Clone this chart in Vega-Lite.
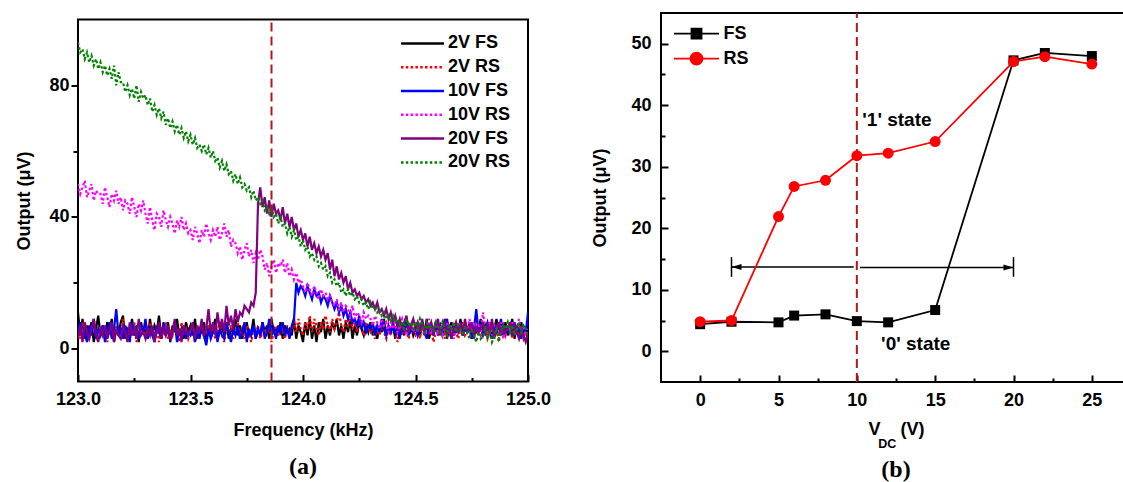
{
"$schema":"https://vega.github.io/schema/vega-lite/v6.json",
"background":"white",
"padding":{"left":14,"top":11,"right":0,"bottom":0},
"config":{
 "view":{"stroke":"black","strokeWidth":2},
 "axis":{"grid":false,"domain":false,"labelFont":"Liberation Sans","labelFontWeight":"bold","labelFontSize":18,"labelColor":"black","titleFont":"Liberation Sans","titleFontWeight":"bold","titleFontSize":18,"titleColor":"black","tickColor":"black","tickWidth":2,"labelOverlap":false,"labelFlush":false},
 "legend":{"labelFont":"Liberation Sans","labelFontWeight":"bold","labelFontSize":18,"labelColor":"black","padding":0},
 "title":{"font":"Liberation Serif","fontSize":24,"fontWeight":"bold","color":"black"}
},
"resolve":{"scale":{"color":"independent","strokeDash":"independent"},"legend":{"color":"independent","strokeDash":"independent"}},
"concat":[
{"vconcat":[
{"width":450,"height":1,"data":{"values":[{"a":1}]},"mark":{"type":"text","text":"","fontSize":0},"view":{"stroke":null}},
{
"width":450,"height":362,
"title":{"text":"(a)","orient":"bottom","offset":16},
"data":{"values":[
{"f":123.00,"k":11,"r":6,"b":5,"m":50,"p":3,"g":93},
{"f":123.01,"k":4,"r":3,"b":8,"m":47,"p":7,"g":90},
{"f":123.02,"k":9,"r":8,"b":3,"m":49,"p":2,"g":91},
{"f":123.03,"k":3,"r":5,"b":6,"m":51,"p":8,"g":88},
{"f":123.04,"k":7,"r":2,"b":2,"m":46,"p":5,"g":90},
{"f":123.05,"k":5,"r":7,"b":7,"m":48,"p":3,"g":87},
{"f":123.06,"k":8,"r":4,"b":4,"m":50,"p":6,"g":89},
{"f":123.07,"k":2,"r":9,"b":9,"m":45,"p":9,"g":86},
{"f":123.08,"k":6,"r":5,"b":3,"m":48,"p":4,"g":88},
{"f":123.09,"k":10,"r":3,"b":6,"m":47,"p":2,"g":85},
{"f":123.10,"k":4,"r":7,"b":4,"m":47,"p":6,"g":87},
{"f":123.11,"k":7,"r":4,"b":7,"m":44,"p":4,"g":84},
{"f":123.12,"k":3,"r":6,"b":2,"m":49,"p":7,"g":86},
{"f":123.13,"k":8,"r":2,"b":5,"m":46,"p":3,"g":83},
{"f":123.14,"k":5,"r":8,"b":8,"m":43,"p":5,"g":85},
{"f":123.15,"k":9,"r":5,"b":3,"m":47,"p":8,"g":82},
{"f":123.16,"k":2,"r":3,"b":6,"m":45,"p":2,"g":86},
{"f":123.17,"k":6,"r":7,"b":12,"m":48,"p":6,"g":80},
{"f":123.18,"k":4,"r":6,"b":4,"m":44,"p":4,"g":84},
{"f":123.19,"k":8,"r":4,"b":6,"m":46,"p":3,"g":81},
{"f":123.20,"k":10,"r":9,"b":3,"m":42,"p":7,"g":81},
{"f":123.21,"k":3,"r":5,"b":7,"m":45,"p":5,"g":78},
{"f":123.22,"k":6,"r":3,"b":5,"m":44,"p":2,"g":80},
{"f":123.23,"k":5,"r":6,"b":2,"m":41,"p":8,"g":77},
{"f":123.24,"k":9,"r":4,"b":8,"m":46,"p":4,"g":79},
{"f":123.25,"k":4,"r":8,"b":4,"m":43,"p":6,"g":76},
{"f":123.26,"k":7,"r":2,"b":6,"m":40,"p":3,"g":80},
{"f":123.27,"k":2,"r":5,"b":3,"m":44,"p":9,"g":75},
{"f":123.28,"k":8,"r":7,"b":7,"m":42,"p":4,"g":78},
{"f":123.29,"k":5,"r":4,"b":5,"m":45,"p":5,"g":76},
{"f":123.30,"k":6,"r":6,"b":9,"m":41,"p":3,"g":77},
{"f":123.31,"k":3,"r":3,"b":3,"m":38,"p":6,"g":74},
{"f":123.32,"k":9,"r":8,"b":6,"m":43,"p":4,"g":76},
{"f":123.33,"k":4,"r":5,"b":4,"m":39,"p":7,"g":72},
{"f":123.34,"k":7,"r":4,"b":2,"m":36,"p":2,"g":74},
{"f":123.35,"k":5,"r":7,"b":7,"m":41,"p":5,"g":71},
{"f":123.36,"k":10,"r":2,"b":5,"m":40,"p":8,"g":73},
{"f":123.37,"k":3,"r":6,"b":3,"m":37,"p":3,"g":70},
{"f":123.38,"k":6,"r":5,"b":8,"m":42,"p":6,"g":72},
{"f":123.39,"k":4,"r":8,"b":4,"m":39,"p":4,"g":68},
{"f":123.40,"k":8,"r":3,"b":6,"m":37,"p":7,"g":70},
{"f":123.41,"k":2,"r":6,"b":3,"m":40,"p":3,"g":67},
{"f":123.42,"k":7,"r":4,"b":5,"m":38,"p":5,"g":69},
{"f":123.43,"k":5,"r":7,"b":8,"m":35,"p":9,"g":66},
{"f":123.44,"k":9,"r":5,"b":2,"m":39,"p":4,"g":68},
{"f":123.45,"k":4,"r":2,"b":6,"m":37,"p":6,"g":65},
{"f":123.46,"k":6,"r":8,"b":4,"m":40,"p":2,"g":67},
{"f":123.47,"k":3,"r":4,"b":7,"m":36,"p":7,"g":64},
{"f":123.48,"k":8,"r":6,"b":3,"m":38,"p":5,"g":66},
{"f":123.49,"k":5,"r":3,"b":5,"m":35,"p":4,"g":63},
{"f":123.50,"k":7,"r":5,"b":4,"m":36,"p":6,"g":65},
{"f":123.51,"k":4,"r":7,"b":6,"m":33,"p":8,"g":62},
{"f":123.52,"k":9,"r":2,"b":2,"m":37,"p":3,"g":64},
{"f":123.53,"k":3,"r":6,"b":5,"m":35,"p":7,"g":61},
{"f":123.54,"k":6,"r":4,"b":3,"m":32,"p":5,"g":62},
{"f":123.55,"k":5,"r":8,"b":7,"m":36,"p":9,"g":60},
{"f":123.56,"k":8,"r":3,"b":4,"m":34,"p":4,"g":62},
{"f":123.57,"k":2,"r":5,"b":1,"m":38,"p":6,"g":59},
{"f":123.58,"k":7,"r":7,"b":6,"m":35,"p":12,"g":61},
{"f":123.59,"k":4,"r":4,"b":3,"m":33,"p":5,"g":58},
{"f":123.60,"k":6,"r":6,"b":5,"m":36,"p":8,"g":60},
{"f":123.61,"k":9,"r":3,"b":7,"m":34,"p":4,"g":57},
{"f":123.62,"k":3,"r":5,"b":2,"m":37,"p":11,"g":58},
{"f":123.63,"k":5,"r":8,"b":6,"m":33,"p":6,"g":55},
{"f":123.64,"k":7,"r":4,"b":4,"m":35,"p":9,"g":57},
{"f":123.65,"k":4,"r":2,"b":3,"m":38,"p":5,"g":54},
{"f":123.66,"k":8,"r":6,"b":8,"m":34,"p":13,"g":56},
{"f":123.67,"k":3,"r":5,"b":5,"m":36,"p":7,"g":53},
{"f":123.68,"k":6,"r":7,"b":2,"m":31,"p":10,"g":54},
{"f":123.69,"k":5,"r":3,"b":6,"m":33,"p":6,"g":51},
{"f":123.70,"k":9,"r":5,"b":4,"m":32,"p":12,"g":53},
{"f":123.71,"k":4,"r":8,"b":7,"m":29,"p":8,"g":50},
{"f":123.72,"k":7,"r":4,"b":3,"m":31,"p":11,"g":52},
{"f":123.73,"k":3,"r":6,"b":5,"m":27,"p":10,"g":49},
{"f":123.74,"k":6,"r":3,"b":8,"m":30,"p":13,"g":50},
{"f":123.75,"k":8,"r":7,"b":2,"m":32,"p":12,"g":48},
{"f":123.76,"k":4,"r":5,"b":6,"m":28,"p":11,"g":49},
{"f":123.77,"k":5,"r":2,"b":4,"m":30,"p":14,"g":46},
{"f":123.78,"k":9,"r":6,"b":7,"m":26,"p":13,"g":48},
{"f":123.79,"k":3,"r":4,"b":3,"m":29,"p":17,"g":45},
{"f":123.80,"k":6,"r":7,"b":6,"m":27,"p":44,"g":46},
{"f":123.81,"k":4,"r":3,"b":4,"m":30,"p":49,"g":44},
{"f":123.82,"k":8,"r":5,"b":8,"m":28,"p":43,"g":45},
{"f":123.83,"k":5,"r":6,"b":3,"m":24,"p":46,"g":42},
{"f":123.84,"k":7,"r":4,"b":5,"m":26,"p":41,"g":43},
{"f":123.85,"k":3,"r":8,"b":9,"m":22,"p":45,"g":41},
{"f":123.86,"k":9,"r":2,"b":4,"m":25,"p":40,"g":43},
{"f":123.87,"k":5,"r":5,"b":6,"m":27,"p":44,"g":40},
{"f":123.88,"k":6,"r":7,"b":3,"m":23,"p":41,"g":41},
{"f":123.89,"k":4,"r":4,"b":7,"m":26,"p":42,"g":38},
{"f":123.90,"k":8,"r":6,"b":5,"m":25,"p":39,"g":40},
{"f":123.91,"k":3,"r":5,"b":8,"m":27,"p":43,"g":37},
{"f":123.92,"k":7,"r":3,"b":4,"m":23,"p":38,"g":38},
{"f":123.93,"k":5,"r":7,"b":6,"m":26,"p":41,"g":35},
{"f":123.94,"k":6,"r":4,"b":3,"m":22,"p":37,"g":37},
{"f":123.95,"k":4,"r":6,"b":7,"m":24,"p":40,"g":34},
{"f":123.96,"k":9,"r":8,"b":9,"m":21,"p":36,"g":36},
{"f":123.97,"k":3,"r":5,"b":20,"m":23,"p":38,"g":33},
{"f":123.98,"k":7,"r":9,"b":17,"m":20,"p":34,"g":34},
{"f":123.99,"k":5,"r":6,"b":19,"m":21,"p":36,"g":31},
{"f":124.00,"k":2,"r":4,"b":18,"m":19,"p":33,"g":33},
{"f":124.01,"k":8,"r":8,"b":16,"m":17,"p":35,"g":30},
{"f":124.02,"k":4,"r":6,"b":19,"m":20,"p":31,"g":31},
{"f":124.03,"k":9,"r":10,"b":17,"m":18,"p":34,"g":28},
{"f":124.04,"k":3,"r":5,"b":15,"m":16,"p":30,"g":29},
{"f":124.05,"k":7,"r":9,"b":18,"m":19,"p":32,"g":27},
{"f":124.06,"k":2,"r":7,"b":16,"m":17,"p":29,"g":28},
{"f":124.07,"k":8,"r":4,"b":17,"m":15,"p":31,"g":25},
{"f":124.08,"k":5,"r":8,"b":14,"m":18,"p":28,"g":26},
{"f":124.09,"k":9,"r":6,"b":16,"m":16,"p":30,"g":24},
{"f":124.10,"k":3,"r":10,"b":15,"m":17,"p":27,"g":25},
{"f":124.11,"k":7,"r":7,"b":13,"m":15,"p":29,"g":22},
{"f":124.12,"k":4,"r":5,"b":16,"m":16,"p":24,"g":23},
{"f":124.13,"k":8,"r":9,"b":14,"m":14,"p":27,"g":20},
{"f":124.14,"k":6,"r":6,"b":12,"m":13,"p":22,"g":21},
{"f":124.15,"k":9,"r":8,"b":14,"m":15,"p":25,"g":19},
{"f":124.16,"k":4,"r":11,"b":11,"m":12,"p":21,"g":20},
{"f":124.17,"k":7,"r":7,"b":13,"m":14,"p":23,"g":17},
{"f":124.18,"k":3,"r":5,"b":10,"m":11,"p":20,"g":18},
{"f":124.19,"k":8,"r":9,"b":12,"m":13,"p":22,"g":16},
{"f":124.20,"k":5,"r":7,"b":9,"m":12,"p":18,"g":18},
{"f":124.21,"k":9,"r":10,"b":11,"m":10,"p":20,"g":16},
{"f":124.22,"k":3,"r":6,"b":8,"m":13,"p":17,"g":17},
{"f":124.23,"k":7,"r":8,"b":9,"m":9,"p":18,"g":15},
{"f":124.24,"k":4,"r":5,"b":7,"m":11,"p":16,"g":16},
{"f":124.25,"k":8,"r":9,"b":10,"m":10,"p":17,"g":14},
{"f":124.26,"k":6,"r":7,"b":6,"m":8,"p":15,"g":15},
{"f":124.27,"k":4,"r":4,"b":8,"m":11,"p":16,"g":13},
{"f":124.28,"k":7,"r":8,"b":5,"m":9,"p":14,"g":14},
{"f":124.29,"k":5,"r":6,"b":7,"m":10,"p":15,"g":12},
{"f":124.30,"k":8,"r":5,"b":6,"m":9,"p":13,"g":14},
{"f":124.31,"k":4,"r":7,"b":8,"m":7,"p":14,"g":12},
{"f":124.32,"k":6,"r":3,"b":4,"m":10,"p":12,"g":13},
{"f":124.33,"k":3,"r":6,"b":7,"m":8,"p":14,"g":11},
{"f":124.34,"k":7,"r":4,"b":5,"m":6,"p":11,"g":12},
{"f":124.35,"k":5,"r":8,"b":9,"m":9,"p":12,"g":10},
{"f":124.36,"k":9,"r":5,"b":6,"m":7,"p":10,"g":11},
{"f":124.37,"k":4,"r":3,"b":4,"m":8,"p":12,"g":9},
{"f":124.38,"k":6,"r":6,"b":7,"m":5,"p":9,"g":10},
{"f":124.39,"k":5,"r":4,"b":5,"m":8,"p":11,"g":8},
{"f":124.40,"k":7,"r":7,"b":8,"m":6,"p":8,"g":10},
{"f":124.41,"k":3,"r":5,"b":5,"m":8,"p":10,"g":8},
{"f":124.42,"k":8,"r":2,"b":6,"m":5,"p":7,"g":9},
{"f":124.43,"k":5,"r":6,"b":3,"m":7,"p":9,"g":7},
{"f":124.44,"k":6,"r":4,"b":7,"m":9,"p":6,"g":8},
{"f":124.45,"k":4,"r":8,"b":5,"m":6,"p":8,"g":6},
{"f":124.46,"k":9,"r":5,"b":9,"m":4,"p":10,"g":9},
{"f":124.47,"k":5,"r":3,"b":4,"m":7,"p":5,"g":7},
{"f":124.48,"k":7,"r":7,"b":6,"m":8,"p":7,"g":8},
{"f":124.49,"k":4,"r":5,"b":5,"m":5,"p":9,"g":6},
{"f":124.50,"k":6,"r":4,"b":7,"m":7,"p":6,"g":8},
{"f":124.51,"k":8,"r":6,"b":4,"m":5,"p":8,"g":6},
{"f":124.52,"k":4,"r":3,"b":6,"m":8,"p":5,"g":9},
{"f":124.53,"k":7,"r":8,"b":8,"m":6,"p":9,"g":7},
{"f":124.54,"k":5,"r":5,"b":5,"m":4,"p":4,"g":5},
{"f":124.55,"k":9,"r":7,"b":3,"m":7,"p":7,"g":8},
{"f":124.56,"k":3,"r":4,"b":7,"m":9,"p":6,"g":6},
{"f":124.57,"k":6,"r":6,"b":6,"m":5,"p":8,"g":7},
{"f":124.58,"k":5,"r":2,"b":4,"m":6,"p":5,"g":5},
{"f":124.59,"k":8,"r":5,"b":8,"m":8,"p":7,"g":8},
{"f":124.60,"k":4,"r":7,"b":5,"m":5,"p":9,"g":7},
{"f":124.61,"k":7,"r":4,"b":7,"m":7,"p":4,"g":5},
{"f":124.62,"k":5,"r":6,"b":4,"m":4,"p":6,"g":8},
{"f":124.63,"k":9,"r":3,"b":6,"m":6,"p":8,"g":6},
{"f":124.64,"k":3,"r":9,"b":9,"m":8,"p":5,"g":4},
{"f":124.65,"k":6,"r":5,"b":5,"m":5,"p":7,"g":7},
{"f":124.66,"k":8,"r":4,"b":3,"m":7,"p":3,"g":6},
{"f":124.67,"k":4,"r":7,"b":7,"m":3,"p":6,"g":8},
{"f":124.68,"k":7,"r":5,"b":5,"m":6,"p":8,"g":5},
{"f":124.69,"k":5,"r":3,"b":6,"m":8,"p":5,"g":7},
{"f":124.70,"k":9,"r":6,"b":8,"m":6,"p":7,"g":6},
{"f":124.71,"k":4,"r":8,"b":4,"m":4,"p":4,"g":4},
{"f":124.72,"k":6,"r":4,"b":6,"m":7,"p":9,"g":7},
{"f":124.73,"k":5,"r":5,"b":5,"m":5,"p":5,"g":5},
{"f":124.74,"k":8,"r":7,"b":7,"m":9,"p":6,"g":3},
{"f":124.75,"k":3,"r":3,"b":3,"m":6,"p":8,"g":6},
{"f":124.76,"k":7,"r":6,"b":6,"m":8,"p":3,"g":4},
{"f":124.77,"k":5,"r":9,"b":12,"m":5,"p":7,"g":2},
{"f":124.78,"k":6,"r":5,"b":5,"m":7,"p":5,"g":5},
{"f":124.79,"k":9,"r":4,"b":7,"m":4,"p":6,"g":3},
{"f":124.80,"k":4,"r":7,"b":4,"m":11,"p":8,"g":4},
{"f":124.81,"k":7,"r":5,"b":6,"m":6,"p":4,"g":6},
{"f":124.82,"k":5,"r":3,"b":8,"m":5,"p":7,"g":3},
{"f":124.83,"k":8,"r":6,"b":5,"m":8,"p":5,"g":5},
{"f":124.84,"k":3,"r":8,"b":3,"m":4,"p":9,"g":2},
{"f":124.85,"k":6,"r":4,"b":7,"m":7,"p":3,"g":4},
{"f":124.86,"k":9,"r":6,"b":5,"m":6,"p":6,"g":6},
{"f":124.87,"k":4,"r":2,"b":6,"m":5,"p":8,"g":3},
{"f":124.88,"k":7,"r":5,"b":9,"m":8,"p":4,"g":5},
{"f":124.89,"k":5,"r":7,"b":4,"m":3,"p":7,"g":7},
{"f":124.90,"k":8,"r":4,"b":6,"m":6,"p":5,"g":6},
{"f":124.91,"k":4,"r":6,"b":5,"m":7,"p":6,"g":8},
{"f":124.92,"k":6,"r":8,"b":7,"m":5,"p":8,"g":5},
{"f":124.93,"k":9,"r":3,"b":4,"m":8,"p":4,"g":7},
{"f":124.94,"k":3,"r":5,"b":8,"m":4,"p":7,"g":4},
{"f":124.95,"k":7,"r":7,"b":5,"m":6,"p":5,"g":6},
{"f":124.96,"k":5,"r":4,"b":6,"m":9,"p":3,"g":8},
{"f":124.97,"k":8,"r":6,"b":3,"m":5,"p":6,"g":5},
{"f":124.98,"k":4,"r":3,"b":7,"m":7,"p":4,"g":7},
{"f":124.99,"k":6,"r":5,"b":5,"m":4,"p":2,"g":6},
{"f":125.00,"k":5,"r":4,"b":11,"m":6,"p":5,"g":4}
]},
"encoding":{
 "x":{"field":"f","type":"quantitative","scale":{"domain":[123,125],"nice":false,"zero":false},
  "axis":{"values":[123,123.25,123.5,123.75,124,124.25,124.5,124.75,125],"labelExpr":"datum.value % 0.5 == 0 ? format(datum.value, '.1f') : ''","tickSize":{"condition":{"test":"datum.value % 0.5 != 0","value":-4},"value":-7},"labelPadding":15.5,"title":"Frequency (kHz)","titlePadding":10}},
 "y":{"field":"v","type":"quantitative","scale":{"domain":[-10,100],"nice":false,"zero":false},
  "axis":{"values":[0,20,40,60,80],"labelExpr":"datum.value % 40 == 0 ? datum.label : ''","tickSize":{"condition":{"test":"datum.value % 40 != 0","value":5},"value":7},"labelPadding":2,"title":"Output (μV)","titlePadding":15}}
},
"layer":[
 {"transform":[{"fold":["k","r","b","m","p","g"],"as":["s","v"]}],
  "mark":{"type":"line","strokeWidth":2.2,"clip":true},
  "encoding":{
   "color":{"field":"s","type":"nominal","scale":{"domain":["k","r","b","m","p","g"],"range":["#000000","#ff0000","#0000ff","#ff00ff","#800080","#008000"]},
    "legend":{"title":null,"orient":"none","legendX":321.75,"legendY":18.4,"symbolType":"M-2,0H2","symbolSize":462,"symbolOffset":10.75,"symbolStrokeWidth":2.5,"labelOffset":13.5,"rowPadding":2.8,"labelExpr":"datum.label=='k'?'2V FS':datum.label=='r'?'2V RS':datum.label=='b'?'10V FS':datum.label=='m'?'10V RS':datum.label=='p'?'20V FS':'20V RS'"}},
   "strokeDash":{"field":"s","type":"nominal","scale":{"domain":["k","r","b","m","p","g"],"range":[[1,0],[2.5,2.3],[1,0],[2.5,2.3],[1,0],[2.5,2.3]]},
    "legend":{"title":null,"orient":"none","legendX":321.75,"legendY":18.4,"symbolType":"M-2,0H2","symbolSize":462,"symbolOffset":10.75,"symbolStrokeWidth":2.5,"labelOffset":13.5,"rowPadding":2.8,"labelExpr":"datum.label=='k'?'2V FS':datum.label=='r'?'2V RS':datum.label=='b'?'10V FS':datum.label=='m'?'10V RS':datum.label=='p'?'20V FS':'20V RS'"}}
  }},
 {"data":{"values":[{"f":123.86,"v":-10,"v2":100}]},
  "mark":{"type":"rule","color":"#b01818","strokeWidth":2,"strokeDash":[9,5]},
  "encoding":{"y2":{"field":"v2"}}}
]
}
],"spacing":3.5},
{
"width":470,"height":369,
"title":{"text":"(b)","orient":"bottom","offset":8},
"data":{"values":[
{"x":0,"y":4.4,"s":"FS"},{"x":2,"y":4.8,"s":"FS"},{"x":5,"y":4.7,"s":"FS"},{"x":6,"y":5.8,"s":"FS"},{"x":8,"y":6.0,"s":"FS"},{"x":10,"y":4.9,"s":"FS"},{"x":12,"y":4.7,"s":"FS"},{"x":15,"y":6.7,"s":"FS"},{"x":20,"y":47.3,"s":"FS"},{"x":22,"y":48.5,"s":"FS"},{"x":25,"y":48.0,"s":"FS"},
{"x":0,"y":4.8,"s":"RS"},{"x":2,"y":5.0,"s":"RS"},{"x":5,"y":21.9,"s":"RS"},{"x":6,"y":26.8,"s":"RS"},{"x":8,"y":27.8,"s":"RS"},{"x":10,"y":31.8,"s":"RS"},{"x":12,"y":32.2,"s":"RS"},{"x":15,"y":34.1,"s":"RS"},{"x":20,"y":47.1,"s":"RS"},{"x":22,"y":47.9,"s":"RS"},{"x":25,"y":46.7,"s":"RS"}
]},
"encoding":{
 "x":{"field":"x","type":"quantitative","scale":{"domain":[-2.5,27.5],"nice":false,"zero":false},
  "axis":{"values":[0,2.5,5,7.5,10,12.5,15,17.5,20,22.5,25],"labelExpr":"datum.value % 5 == 0 ? datum.label : ''","tickSize":{"condition":{"test":"datum.value % 5 != 0","value":-4},"value":-7},"labelPadding":16,"title":"V\u00a0\u00a0\u00a0\u00a0(V)","titlePadding":8}},
 "y":{"field":"y","type":"quantitative","scale":{"domain":[-5,55],"nice":false,"zero":false},
  "axis":{"values":[0,5,10,15,20,25,30,35,40,45,50],"labelExpr":"datum.value % 10 == 0 ? datum.label : ''","tickSize":{"condition":{"test":"datum.value % 10 != 0","value":-4},"value":-7},"labelPadding":17,"title":"Output (μV)","titlePadding":21}}
},
"layer":[
 {"data":{"values":[{"x":10,"y":-5,"y2":55}]},"mark":{"type":"rule","color":"#b01818","strokeWidth":2,"strokeDash":[9,5]},"encoding":{"y2":{"field":"y2"}}},
 {"data":{"values":[{"x":2,"x2":9.8,"y":13.7},{"x":10.2,"x2":20,"y":13.6}]},"mark":{"type":"rule","color":"black","strokeWidth":1.5},"encoding":{"x2":{"field":"x2"}}},
 {"data":{"values":[{"x":2,"y":12.1,"y2":15.3},{"x":20,"y":12.1,"y2":15.3}]},"mark":{"type":"rule","color":"black","strokeWidth":1.5},"encoding":{"y2":{"field":"y2"}}},
 {"data":{"values":[{"x":2.32,"y":13.7}]},"mark":{"type":"point","shape":"M-1,0L1,-0.6L1,0.6Z","filled":true,"size":100,"color":"black","opacity":1}},
 {"data":{"values":[{"x":19.68,"y":13.6}]},"mark":{"type":"point","shape":"M1,0L-1,-0.6L-1,0.6Z","filled":true,"size":100,"color":"black","opacity":1}},
 {"mark":{"type":"line","strokeWidth":1.8},
  "encoding":{"color":{"field":"s","type":"nominal","scale":{"domain":["FS","RS"],"range":["#000000","#ff0000"]},
   "legend":{"title":null,"orient":"none","legendX":12,"legendY":9.7,"symbolSize":400,"symbolOffset":12.5,"symbolStrokeWidth":1.8,"labelOffset":16,"rowPadding":5,
    "encode":{"symbols":{"update":{"shape":{"signal":"datum.value == 'FS' ? 'M-2.25,0H2.25M-0.5,-0.5H0.5V0.5H-0.5Z' : 'M-2.25,0H2.25M0.6,0A0.6,0.6,0,1,1,-0.6,0A0.6,0.6,0,1,1,0.6,0Z'"},"fill":{"signal":"datum.value == 'FS' ? 'black' : 'red'"},"stroke":{"signal":"datum.value == 'FS' ? 'black' : 'red'"},"opacity":{"value":1}}}}}}}},
 {"transform":[{"filter":"datum.s == 'FS'"}],"mark":{"type":"point","shape":"square","filled":true,"size":100,"opacity":1},
  "encoding":{"color":{"field":"s","type":"nominal","scale":{"domain":["FS","RS"],"range":["#000000","#ff0000"]},
   "legend":{"title":null,"orient":"none","legendX":12,"legendY":9.7,"symbolSize":400,"symbolOffset":12.5,"symbolStrokeWidth":1.8,"labelOffset":16,"rowPadding":5,
    "encode":{"symbols":{"update":{"shape":{"signal":"datum.value == 'FS' ? 'M-2.25,0H2.25M-0.5,-0.5H0.5V0.5H-0.5Z' : 'M-2.25,0H2.25M0.6,0A0.6,0.6,0,1,1,-0.6,0A0.6,0.6,0,1,1,0.6,0Z'"},"fill":{"signal":"datum.value == 'FS' ? 'black' : 'red'"},"stroke":{"signal":"datum.value == 'FS' ? 'black' : 'red'"},"opacity":{"value":1}}}}}}}},
 {"transform":[{"filter":"datum.s == 'RS'"}],"mark":{"type":"point","shape":"circle","filled":true,"size":120,"opacity":1},
  "encoding":{"color":{"field":"s","type":"nominal","scale":{"domain":["FS","RS"],"range":["#000000","#ff0000"]},
   "legend":{"title":null,"orient":"none","legendX":12,"legendY":9.7,"symbolSize":400,"symbolOffset":12.5,"symbolStrokeWidth":1.8,"labelOffset":16,"rowPadding":5,
    "encode":{"symbols":{"update":{"shape":{"signal":"datum.value == 'FS' ? 'M-2.25,0H2.25M-0.5,-0.5H0.5V0.5H-0.5Z' : 'M-2.25,0H2.25M0.6,0A0.6,0.6,0,1,1,-0.6,0A0.6,0.6,0,1,1,0.6,0Z'"},"fill":{"signal":"datum.value == 'FS' ? 'black' : 'red'"},"stroke":{"signal":"datum.value == 'FS' ? 'black' : 'red'"},"opacity":{"value":1}}}}}}}},
 {"data":{"values":[{"x":10.35,"y":37.6,"t":"'1' state"},{"x":11.55,"y":1.25,"t":"'0' state"}]},
  "mark":{"type":"text","align":"left","baseline":"middle","font":"Liberation Sans","fontWeight":"bold","fontSize":19,"color":"black"},
  "encoding":{"text":{"field":"t"}}},
 {"data":{"values":[{"x":11.36,"y":-15.0,"t":"DC"}]},
  "mark":{"type":"text","align":"left","baseline":"middle","font":"Liberation Sans","fontWeight":"bold","fontSize":12.5,"color":"black"},
  "encoding":{"text":{"field":"t"}}}
]
}
],
"columns":2,
"align":"none",
"spacing":38
}
